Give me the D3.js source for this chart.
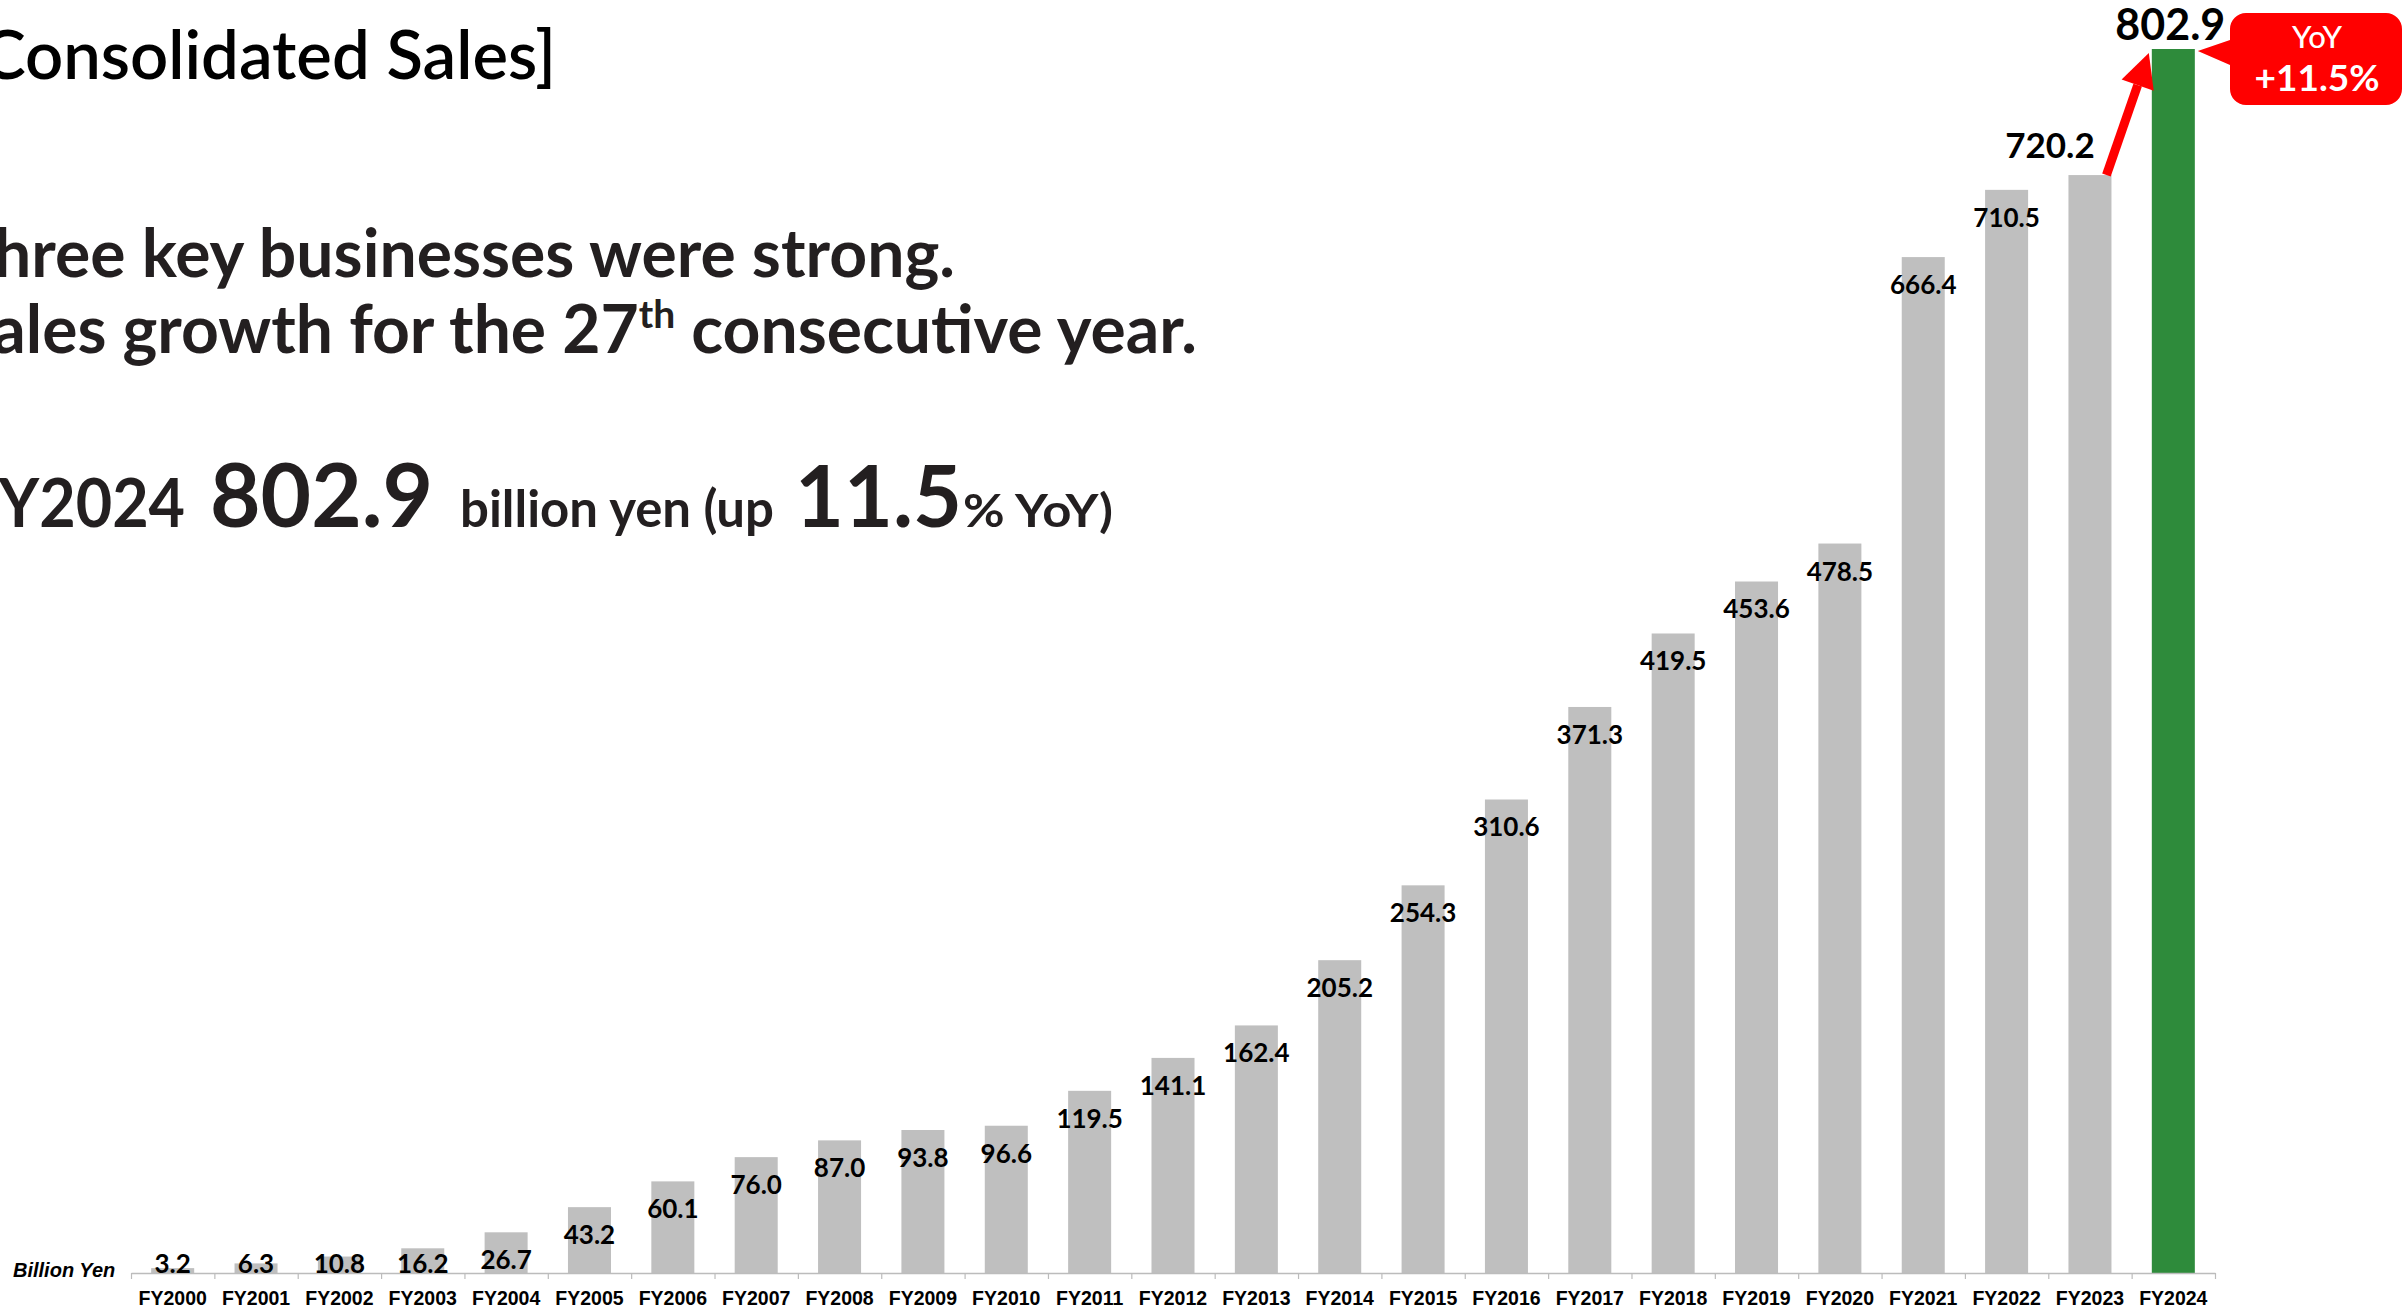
<!DOCTYPE html>
<html>
<head>
<meta charset="utf-8">
<script src="https://cdn.jsdelivr.net/npm/d3@7"></script>
<style>
  html, body { margin: 0; padding: 0; background: #fff; overflow: hidden; }
  svg { display: block; }
</style>
</head>
<body>
<script>
// Consolidated sales by fiscal year, billion yen
const years = ["FY2000","FY2001","FY2002","FY2003","FY2004","FY2005","FY2006","FY2007","FY2008","FY2009",
               "FY2010","FY2011","FY2012","FY2013","FY2014","FY2015","FY2016","FY2017","FY2018","FY2019",
               "FY2020","FY2021","FY2022","FY2023","FY2024"];
const sales = [3.2, 6.3, 10.8, 16.2, 26.7, 43.2, 60.1, 76.0, 87.0, 93.8,
               96.6, 119.5, 141.1, 162.4, 205.2, 254.3, 310.6, 371.3, 419.5, 453.6,
               478.5, 666.4, 710.5, 720.2, 802.9];
const yoyGrowth = 11.5;
const unitLabel = "Billion Yen";
const titleText = "[Consolidated Sales]";
const bodyLine1 = "Three key businesses were strong.";

const W = 2407, H = 1309;
const FONT = "Lato, 'Open Sans', sans-serif";
const AXIS_FONT = "'Liberation Sans', Arial, sans-serif";
const INK = "#231f20";

const svg = d3.select("body").append("svg").attr("width", W).attr("height", H);

const baseline = 1273;
const x = d3.scaleBand().domain(years).range([131, 2215]).paddingInner(0.484).paddingOuter(0.242);
const y = d3.scaleLinear().domain([0, d3.max(sales)]).range([baseline, 49]);

const data = years.map((yr, i) => ({ yr, v: sales[i], last: i === years.length - 1 }));
const lastIdx = years.length - 1;
const fmt = d3.format(".1f");

// ---- headline text block ----
svg.append("text")
  .attr("x", 556).attr("y", 79)
  .attr("text-anchor", "end")
  .attr("font-family", FONT).attr("font-weight", 600).attr("font-size", 67)
  .attr("fill", "#000")
  .text(titleText);

svg.append("text")
  .attr("x", 955).attr("y", 277)
  .attr("text-anchor", "end")
  .attr("font-family", FONT).attr("font-weight", 700).attr("font-size", 66)
  .attr("fill", INK)
  .attr("textLength", 1000).attr("lengthAdjust", "spacingAndGlyphs")
  .text(bodyLine1);

const l2 = svg.append("text")
  .attr("x", 1197).attr("y", 353)
  .attr("text-anchor", "end")
  .attr("font-family", FONT).attr("font-weight", 700).attr("font-size", 66)
  .attr("fill", INK);
l2.append("tspan").text("Sales growth for the 27");
l2.append("tspan").attr("font-size", 39).attr("dy", -25).text("th");
l2.append("tspan").attr("dy", 25).text(" consecutive year.");

// FY2024 result line, each piece set to its own size
const seg = (txt, xPos, size, len, anchor, weight) => svg.append("text")
  .attr("x", xPos).attr("y", 527)
  .attr("text-anchor", anchor || "start")
  .attr("font-family", FONT).attr("font-weight", weight || 700).attr("font-size", size)
  .attr("fill", INK)
  .attr("textLength", len).attr("lengthAdjust", "spacingAndGlyphs")
  .text(txt);
seg(years[lastIdx], 185, 66, 222, "end");
seg(fmt(sales[lastIdx]), 210, 88, 223);
seg("billion yen (up", 460, 52, 314);
seg(fmt(yoyGrowth), 795, 86, 167);
seg("% YoY)", 963, 46, 150);

// ---- bars ----
svg.append("g").selectAll("rect").data(data).join("rect")
  .attr("x", d => x(d.yr))
  .attr("width", x.bandwidth())
  .attr("y", d => y(d.v))
  .attr("height", d => baseline - y(d.v))
  .attr("fill", d => d.last ? "#2e8b3b" : "#bfbfbf");

// ---- x axis: boundary ticks between categories ----
const idx = d3.scaleLinear().domain([0, years.length]).range(x.range());
const axisG = svg.append("g").attr("transform", `translate(0,${baseline})`)
  .call(d3.axisBottom(idx).tickValues(d3.range(years.length + 1)).tickFormat("").tickSize(6).tickSizeOuter(0));
axisG.select(".domain").attr("stroke", "#bcbcbc").attr("stroke-width", 1.5);
axisG.selectAll(".tick line").attr("stroke", "#bcbcbc").attr("stroke-width", 1.2);

// category labels
const labG = svg.append("g").attr("transform", `translate(0,${baseline})`)
  .call(d3.axisBottom(x).tickSize(0).tickPadding(0));
labG.select(".domain").remove();
labG.selectAll(".tick text")
  .attr("y", 32).attr("dy", 0)
  .attr("font-family", AXIS_FONT).attr("font-weight", 700).attr("font-size", 19.5)
  .attr("fill", "#000");

// unit label
svg.append("text")
  .attr("x", 13).attr("y", 1277)
  .attr("font-family", AXIS_FONT).attr("font-style", "italic").attr("font-weight", 700).attr("font-size", 20)
  .attr("fill", "#000")
  .text(unitLabel);

// ---- value labels ----
svg.append("g").selectAll("text").data(data.slice(0, lastIdx - 1)).join("text")
  .attr("x", d => x(d.yr) + x.bandwidth() / 2)
  .attr("y", d => Math.min(y(d.v) + 37, baseline))
  .attr("text-anchor", "middle")
  .attr("font-family", FONT).attr("font-weight", 700).attr("font-size", 26)
  .attr("fill", "#000")
  .text(d => fmt(d.v));

// previous year label, set off to the left
const prev = data[lastIdx - 1];
svg.append("text")
  .attr("x", x(prev.yr) + x.bandwidth() / 2 - 40)
  .attr("y", y(prev.v) - 17)
  .attr("text-anchor", "middle")
  .attr("font-family", FONT).attr("font-weight", 700).attr("font-size", 35)
  .attr("fill", "#000")
  .text(fmt(prev.v));

// current year label
const cur = data[lastIdx];
svg.append("text")
  .attr("x", x(cur.yr) + x.bandwidth() / 2 - 3)
  .attr("y", y(cur.v) - 9)
  .attr("text-anchor", "middle")
  .attr("font-family", FONT).attr("font-weight", 700).attr("font-size", 43)
  .attr("fill", "#000")
  .text(fmt(cur.v));

// ---- red growth arrow from previous bar top to current bar top ----
const ax0 = x(prev.yr) + x.bandwidth() - 5, ay0 = y(prev.v);
const ax1 = x(cur.yr) - 3, ay1 = y(cur.v) + 4;
const ang = Math.atan2(ay1 - ay0, ax1 - ax0);
const headLen = 34, headW = 17;
const bx = ax1 - headLen * Math.cos(ang), by = ay1 - headLen * Math.sin(ang);
const px = -Math.sin(ang), py = Math.cos(ang);
svg.append("line")
  .attr("x1", ax0).attr("y1", ay0).attr("x2", bx).attr("y2", by)
  .attr("stroke", "#ff0000").attr("stroke-width", 9);
svg.append("path")
  .attr("d", `M${ax1},${ay1} L${bx + px * headW},${by + py * headW} L${bx - px * headW},${by - py * headW} Z`)
  .attr("fill", "#ff0000");

// ---- YoY callout ----
const cx0 = 2230, cx1 = 2402, cy0 = 13, cy1 = 105, r = 16;
const tipX = x(cur.yr) + x.bandwidth() + 3, tipY = y(cur.v) + 2;
const callout = d3.path();
callout.moveTo(cx0 + r, cy0);
callout.lineTo(cx1 - r, cy0);
callout.arcTo(cx1, cy0, cx1, cy0 + r, r);
callout.lineTo(cx1, cy1 - r);
callout.arcTo(cx1, cy1, cx1 - r, cy1, r);
callout.lineTo(cx0 + r, cy1);
callout.arcTo(cx0, cy1, cx0, cy1 - r, r);
callout.lineTo(cx0, 65);
callout.lineTo(tipX, tipY);
callout.lineTo(cx0, 40);
callout.lineTo(cx0, cy0 + r);
callout.arcTo(cx0, cy0, cx0 + r, cy0, r);
callout.closePath();
svg.append("path").attr("d", callout.toString()).attr("fill", "#ff0000");

svg.append("text")
  .attr("x", 2317).attr("y", 48)
  .attr("text-anchor", "middle")
  .attr("font-family", FONT).attr("font-weight", 500).attr("font-size", 31)
  .attr("fill", "#fff")
  .text("YoY");
svg.append("text")
  .attr("x", 2317).attr("y", 91)
  .attr("text-anchor", "middle")
  .attr("font-family", FONT).attr("font-weight", 700).attr("font-size", 37)
  .attr("fill", "#fff")
  .text("+" + fmt(yoyGrowth) + "%");
</script>
</body>
</html>
